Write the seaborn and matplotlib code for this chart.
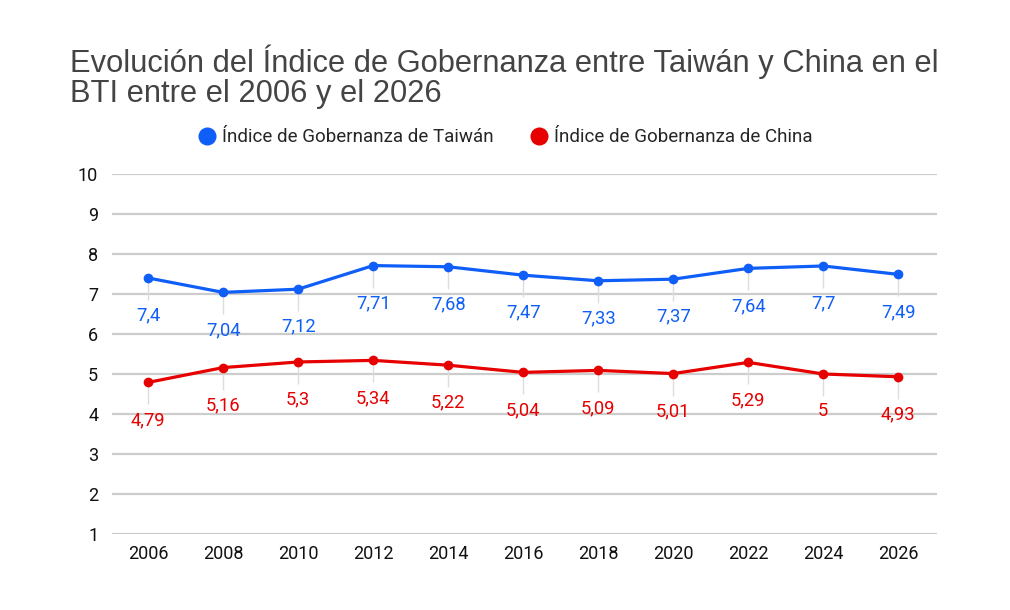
import matplotlib
matplotlib.use("Agg")
import matplotlib.pyplot as plt
from matplotlib.lines import Line2D
import numpy as np
import pandas as pd
import seaborn as sns

years  = [2006, 2008, 2010, 2012, 2014, 2016, 2018, 2020, 2022, 2024, 2026]
taiwan = [7.4, 7.04, 7.12, 7.71, 7.68, 7.47, 7.33, 7.37, 7.64, 7.7, 7.49]
china  = [4.79, 5.16, 5.3, 5.34, 5.22, 5.04, 5.09, 5.01, 5.29, 5.0, 4.93]
names  = ["Índice de Gobernanza de Taiwán", "Índice de Gobernanza de China"]
colors = ["#0f5ef7", "#e60000"]

sns.set_style("white")
plt.rcParams["font.family"] = ["Roboto", "DejaVu Sans"]

fig = plt.figure(figsize=(10.1, 6.1), dpi=100)
ax = fig.add_axes([0.111, 0.1246, 0.817, 0.5902])

for vals, name, col in zip([taiwan, china], names, colors):
    df = pd.DataFrame({"year": years, "val": vals})
    sns.lineplot(data=df, x="year", y="val", ax=ax, color=col, linewidth=2.3,
                 marker="o", markersize=7, markeredgewidth=0, label=name,
                 legend=False, zorder=3)
    # faint leader lines from the point to its label
    ax.vlines(years, np.array(vals) - 0.55, vals, color="#dddddd", linewidth=1, zorder=1)
    for x, v in zip(years, vals):
        lab = ("%g" % v).replace(".", ",")
        ax.annotate(lab, (x, v), xytext=(0, -27), textcoords="offset points",
                    ha="center", va="center", color=col, fontsize=13.2, zorder=4)

ax.set_xlim(2005.04, 2027.04)
ax.set_ylim(1, 10)
ax.set_yticks(range(1, 11))
ax.set_xticks(years)
ax.yaxis.grid(True, color="#cccccc", linewidth=1.6, zorder=0)
ax.xaxis.grid(False)
for s in ax.spines.values():
    s.set_visible(False)
ax.set_xlabel("")
ax.set_ylabel("")
ax.tick_params(axis="both", length=0, labelsize=13, labelcolor="#111111")
ax.tick_params(axis="y", pad=10)
ax.tick_params(axis="x", pad=8)

fig.text(0.069, 0.874, "Evolución del Índice de Gobernanza entre Taiwán y China en el\nBTI entre el 2006 y el 2026",
         fontsize=22.2, color="#444444", ha="left", va="center", linespacing=1.02,
         family=["Liberation Sans", "DejaVu Sans"])

handles = [Line2D([], [], marker="o", linestyle="", markersize=13, markeredgewidth=0, color=c)
           for c in colors]
fig.legend(handles, names, loc="center", bbox_to_anchor=(0.5, 0.775), ncol=2, frameon=False,
           fontsize=13.5, handletextpad=0.3, columnspacing=1.9, handlelength=1.0)

fig.savefig("out.png", dpi=100)
